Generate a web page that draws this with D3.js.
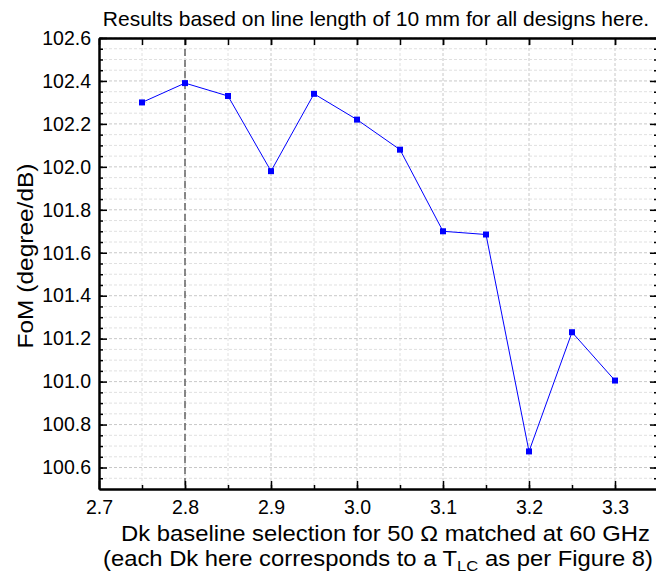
<html>
<head>
  <script src="https://cdn.jsdelivr.net/npm/d3@7"></script>
  <style>
    body { margin:0; background:#fff; }
    text { font-family: "Liberation Sans", Arial, sans-serif; }
  </style>
</head>
<body>
<svg width="656" height="578"></svg>
<script>
// data
const dk = [2.75, 2.80, 2.85, 2.90, 2.95, 3.00, 3.05, 3.10, 3.15, 3.20, 3.25, 3.30]
const fom = [102.30, 102.39, 102.33, 101.98, 102.34, 102.22, 102.08, 101.70, 101.685, 100.675, 101.23, 101.005]
const xTicks = [2.7, 2.8, 2.9, 3.0, 3.1, 3.2, 3.3]
const yTicks = [100.6, 100.8, 101.0, 101.2, 101.4, 101.6, 101.8, 102.0, 102.2, 102.4, 102.6]
const markedDk = 2.8

let svg = d3.select('svg')
let L = 99, R = 658, T = 38, B = 489

let x = d3.scaleLinear().domain([2.7, 3.35]).range([L, R])
let y = d3.scaleLinear().domain([100.5, 102.6]).range([B, T])

let xMinor = d3.range(2.75, 3.351, 0.05)
let yMinor = d3.range(100.55, 102.601, 0.05)

// grid
let grid = svg.append("g")
grid.selectAll(".gx").data(xMinor).enter().append("line")
  .attr("x1", d => x(d)).attr("x2", d => x(d)).attr("y1", T).attr("y2", B)
  .attr("stroke", d => Math.abs(d*10 - Math.round(d*10)) < 1e-6 ? "#c8c8c8" : "#e0e0e0")
  .attr("stroke-dasharray", "3,2").attr("stroke-width", 1)
grid.selectAll(".gy").data(yMinor).enter().append("line")
  .attr("x1", L).attr("x2", R).attr("y1", d => y(d)).attr("y2", d => y(d))
  .attr("stroke", d => Math.abs(d*5 - Math.round(d*5)) < 1e-6 ? "#c8c8c8" : "#e0e0e0")
  .attr("stroke-dasharray", "3,2").attr("stroke-width", 1)

// marked dk line
svg.append("line")
  .attr("x1", x(markedDk)).attr("x2", x(markedDk)).attr("y1", T).attr("y2", B)
  .attr("stroke", "#666").attr("stroke-width", 1.5).attr("stroke-dasharray", "7,4")

// axes
let fmt = d3.format(".1f")
svg.append("g").attr("transform", "translate(0," + B + ")")
  .call(d3.axisBottom(x).tickValues(xTicks).tickFormat(fmt).tickSizeInner(-8).tickSizeOuter(0).tickPadding(11))
svg.append("g").attr("transform", "translate(0," + B + ")")
  .call(d3.axisBottom(x).tickValues(xMinor).tickFormat("").tickSizeInner(-4).tickSizeOuter(0))

svg.append("g").attr("transform", "translate(" + L + ",0)")
  .call(d3.axisLeft(y).tickValues(yTicks).tickFormat(fmt).tickSizeInner(-8).tickSizeOuter(0).tickPadding(8))
svg.append("g").attr("transform", "translate(" + L + ",0)")
  .call(d3.axisLeft(y).tickValues(yMinor).tickFormat("").tickSizeInner(-4).tickSizeOuter(0))

svg.append("g").attr("transform", "translate(0," + T + ")")
  .call(d3.axisTop(x).tickValues(xTicks).tickFormat("").tickSizeInner(-7).tickSizeOuter(0))
svg.append("g").attr("transform", "translate(0," + T + ")")
  .call(d3.axisTop(x).tickValues(xMinor).tickFormat("").tickSizeInner(-7).tickSizeOuter(0))
svg.append("g").attr("transform", "translate(" + R + ",0)")
  .call(d3.axisRight(y).tickValues(yTicks).tickFormat("").tickSizeInner(-8).tickSizeOuter(0))
svg.append("g").attr("transform", "translate(" + R + ",0)")
  .call(d3.axisRight(y).tickValues(yMinor).tickFormat("").tickSizeInner(-4).tickSizeOuter(0))

svg.selectAll(".domain").attr("stroke", "#000").attr("stroke-width", 2)
svg.selectAll(".tick line").attr("stroke", "#000").attr("stroke-width", 1.5)
svg.selectAll(".tick text").attr("font-size", 19.5).attr("fill", "#000")
  .style("font-family", "'Liberation Sans', Arial, sans-serif")

// series
let pts = dk.map((d, i) => ({x: d, v: fom[i]}))
svg.append("path").datum(pts)
  .attr("d", d3.line().x(d => x(d.x)).y(d => y(d.v)))
  .attr("fill", "none").attr("stroke", "#0000ff").attr("stroke-width", 1)
svg.selectAll(".pt").data(pts).enter().append("rect")
  .attr("x", d => x(d.x) - 3).attr("y", d => y(d.v) - 3)
  .attr("width", 6).attr("height", 6).attr("fill", "#0000ff")

// texts
svg.append("text").attr("x", 376).attr("y", 26).attr("text-anchor", "middle")
  .attr("font-size", 21).text("Results based on line length of 10 mm for all designs here.")

svg.append("text").attr("transform", "translate(33,256) rotate(-90)")
  .attr("text-anchor", "middle").attr("font-size", 22)
  .attr("textLength", 185).attr("lengthAdjust", "spacingAndGlyphs")
  .text("FoM (degree/dB)")

svg.append("text").attr("x", 385.5).attr("y", 541).attr("text-anchor", "middle")
  .attr("font-size", 21.5).attr("textLength", 529).attr("lengthAdjust", "spacingAndGlyphs")
  .text("Dk baseline selection for 50 Ω matched at 60 GHz")
let t2 = svg.append("text").attr("x", 103).attr("y", 566)
  .attr("font-size", 21.5).attr("textLength", 550).attr("lengthAdjust", "spacingAndGlyphs")
t2.append("tspan").text("(each Dk here corresponds to a T")
t2.append("tspan").attr("font-size", 15).attr("dy", 5).text("LC")
t2.append("tspan").attr("dy", -5).text(" as per Figure 8)")
</script>
</body>
</html>
